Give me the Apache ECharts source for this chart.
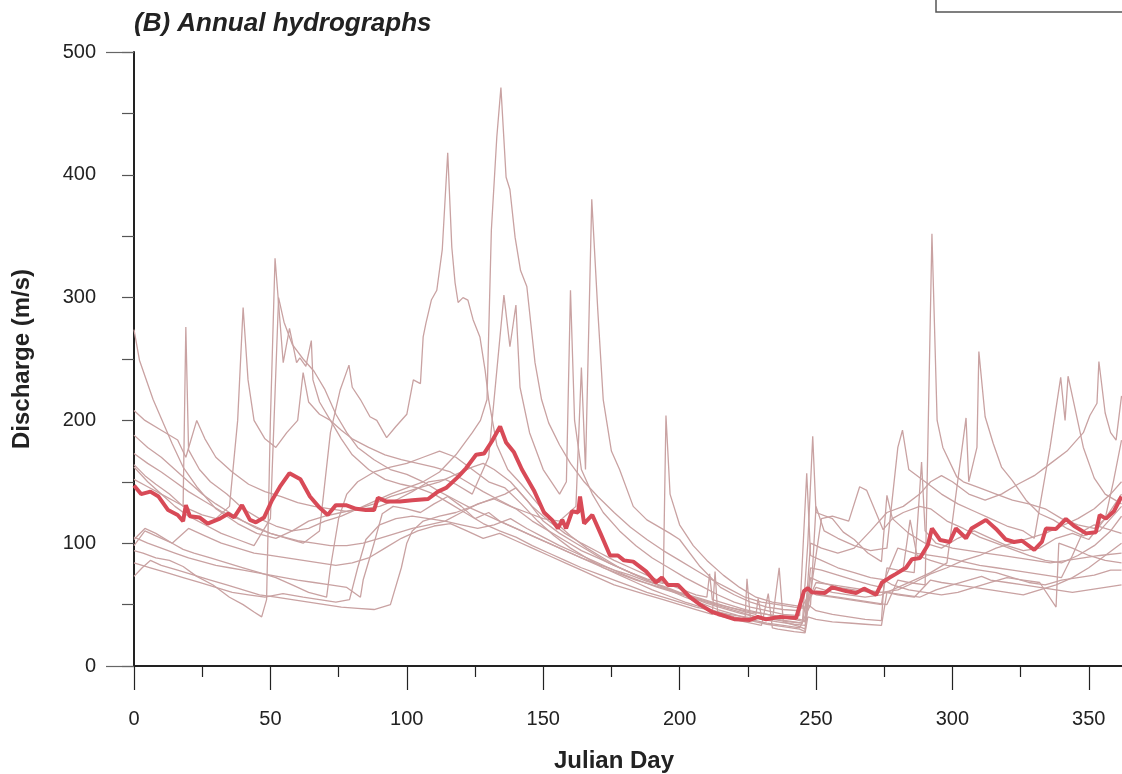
<!DOCTYPE html>
<html>
<head>
<meta charset="utf-8">
<script src="https://cdn.jsdelivr.net/npm/echarts@6/dist/echarts.min.js"></script>
<style>
  html, body { margin: 0; padding: 0; background: #fff; }
  #chart { width: 1122px; height: 774px; }
</style>
</head>
<body>
<div id="chart"></div>
<script>
// tick labels
const xTicks = [0, 50, 100, 150, 200, 250, 300, 350];
const yTicks = [0, 100, 200, 300, 400, 500];

// single years, [julian day, discharge]
const y01 = [[0,274],[2,249],[7,217],[14,181],[18,162],[23,146],[30,128],[38,116],[45,108],[52,104],[58,110],[64,118],[70,122],[76,125],[82,128],[88,132],[94,138],[100,142],[106,146],[112,150],[118,156],[124,162],[128,165],[132,160],[138,150],[144,135],[150,118],[156,108],[162,100],[168,92],[174,84],[180,78],[186,72],[192,66],[198,61],[204,56],[210,51],[216,47],[222,43],[228,40],[234,38],[240,36],[245,35],[247,100],[248.8,187],[250,125],[256,120],[260,109],[264,103],[269,92],[274,85],[276,139],[278,120],[284,108],[290,100],[296,96],[302,104],[308,110],[314,104],[320,98],[326,94],[332,96],[338,104],[344,108],[350,103],[356,120],[362,140]];
const y02 = [[0,208],[4,200],[10,192],[16,184],[19,170],[23,200],[26,185],[30,170],[36,158],[42,148],[48,142],[54,138],[60,133],[66,130],[72,128],[78,126],[84,128],[90,130],[96,135],[102,142],[108,150],[114,152],[118,148],[124,140],[130,170],[135.6,302],[137.8,260],[140,294],[141.5,227],[145,190],[150,160],[156,140],[158.5,150],[160,306],[161.5,200],[164,160],[168,140],[172,125],[178,110],[184,98],[190,88],[196,80],[202,72],[208,65],[214,58],[220,52],[226,48],[232,45],[238,42],[244,41],[246.6,157],[248,90],[252,86],[258,80],[264,76],[270,72],[276,70],[282,80],[284.5,119],[287,90],[292,86],[298,82],[304,80],[310,78],[316,76],[322,72],[328,68],[334,66],[340,70],[346,72],[352,74],[358,78],[362,78]];
const y03 = [[0,188],[5,178],[10,170],[15,160],[20,150],[25,140],[30,132],[35,125],[40,118],[45,112],[50,108],[55,105],[60,102],[66,100],[72,98],[78,98],[84,100],[90,104],[96,108],[102,112],[108,115],[114,118],[120,125],[126,132],[132,136],[138,130],[144,125],[150,120],[156,118],[162,130],[164,243],[165.5,160],[167.8,380],[170,290],[172,217],[175,175],[178,160],[183,130],[188,119],[196.5,108],[200,103],[207.5,81],[215,64],[220,58],[226,52],[232,48],[238,46],[244,45],[248,60],[252,120],[256,122],[262,118],[266,146],[268.6,143],[274.6,111],[278,120],[282,125],[288,130],[292,128],[298,118],[304,112],[310,105],[316,100],[322,95],[328,90],[334,86],[340,84],[346,90],[352,98],[358,110],[362,122]];
const y04 = [[0,173],[5,165],[10,158],[15,150],[20,142],[26,134],[32,126],[38,120],[44,114],[50,108],[56,104],[62,100],[68,110],[72,190],[75.6,225],[78.8,245],[80,227],[83,217],[86.5,203],[89,200],[92.6,186],[96,195],[100,205],[102.4,233],[105,230],[106,268],[107,279],[109,298],[111,306],[113,339],[115,418],[116.5,341],[117.7,312],[118.8,296],[120.6,300],[122.4,298],[124.3,282],[126.8,268],[128.7,241],[130,217],[133,180],[137,160],[142,148],[148,132],[154,118],[160,106],[166,96],[172,88],[178,80],[184,74],[190,68],[196,62],[202,56],[208,51],[214,46],[220,42],[226,38],[232,35],[238,33],[244,31],[248,50],[250,130],[253,110],[258,104],[264,98],[270,94],[276,96],[280,178],[281.7,192],[284,160],[290,150],[296,140],[302,132],[308,126],[314,120],[320,114],[326,110],[330,104],[335.8,178],[339.7,235],[341.3,200],[342.4,236],[348,178],[352,153],[356,140],[362,132]];
const y05 = [[0,164],[4,155],[8,148],[13,140],[18,130],[19,276],[20,176],[24,160],[28,150],[34,140],[40,128],[46,120],[52,114],[58,110],[64,112],[70,118],[76,122],[82,128],[88,134],[94,140],[100,145],[106,150],[112,158],[118,172],[124,190],[127,200],[129.4,217],[131,355],[133,431],[134.5,471],[136.4,398],[137.8,388],[139.7,349],[141.7,322],[144,309],[147,247],[149.4,217],[152,198],[156,180],[160,165],[165,150],[170,138],[176,125],[182,113],[188,103],[194,94],[200,86],[206,78],[212,70],[218,63],[224,56],[230,52],[236,50],[242,48],[246,47],[250,68],[256,66],[262,64],[268,62],[274,60],[280,62],[286,68],[292,75],[298,80],[304,86],[310,90],[316,96],[322,100],[328,104],[334,108],[340,114],[346,120],[352,128],[358,140],[362,150]];
const y06 = [[0,152],[5,146],[10,140],[15,134],[20,128],[25,123],[30,120],[35,130],[38,200],[40,292],[41.8,233],[44,200],[48,185],[52,178],[56,190],[60,200],[62,239],[64,215],[68,205],[72,200],[76,192],[80,185],[86,178],[92,172],[98,168],[104,165],[110,162],[116,158],[122,150],[128,142],[134,135],[140,128],[146,118],[152,110],[158,102],[164,94],[170,88],[176,82],[182,76],[188,71],[194,67],[195,204],[196.5,140],[200,115],[205,98],[210,86],[216,74],[222,64],[228,56],[234,52],[240,50],[246,48],[250,64],[256,60],[262,58],[268,56],[274,58],[280,64],[286,70],[292,76],[298,84],[305,202],[306,150],[309,178],[309.7,256],[312,203],[315,181],[318,162],[322,151],[327,135],[332,124],[337,119],[342,112],[348,106],[354,110],[358,120],[362,130]];
const y07 = [[0,105],[5,100],[10,96],[15,92],[20,88],[25,85],[30,82],[35,80],[40,78],[45,76],[50,74],[55,72],[60,70],[66,68],[72,66],[78,64],[83,56],[84,70],[88,100],[91,124],[95,130],[100,128],[105,125],[110,132],[115,138],[120,130],[125,120],[130,125],[134,118],[140,112],[146,106],[152,100],[158,94],[164,88],[170,83],[176,78],[182,74],[188,69],[194,65],[200,60],[206,56],[212,52],[218,48],[224,44],[228,42],[228.8,55],[230,40],[236,38],[242,36],[245,35],[247,62],[250,58],[256,56],[262,54],[268,52],[274,50],[276,80],[280,78],[286,76],[288.7,166],[290,110],[294,100],[300,96],[306,94],[312,92],[318,90],[324,88],[330,86],[336,84],[342,86],[348,88],[354,90],[362,92]];
const y08 = [[0,103],[4,112],[8,108],[14,100],[18,95],[22,92],[28,88],[34,84],[40,80],[46,76],[52,72],[58,66],[64,60],[70.6,56],[72,80],[75,120],[78,140],[82,150],[88,158],[94,162],[100,165],[106,170],[112,175],[118,170],[124,160],[130,150],[136,145],[142,132],[148,118],[154,106],[160,96],[166,88],[172,80],[178,74],[184,68],[190,62],[196,57],[202,52],[208,48],[214,44],[220,40],[224,38],[224.7,71],[226,37],[232,34],[238,32],[244,30],[246,28],[247,50],[250,45],[256,42],[262,40],[268,38],[274,37],[275,70],[278,66],[284,62],[290,60],[296,58],[302,60],[308,64],[314,68],[320,72],[326,70],[332,68],[338,48],[339,100],[344,96],[350,90],[356,86],[362,84]];
const y09 = [[0,94],[3.3,92],[8,88],[13,86],[18,81],[23,73],[29,66],[35,56],[40,50],[44,44],[46.8,40],[48.6,54],[50,200],[51.7,332],[54.7,247],[57,275],[59.6,247],[60.8,251],[63,244],[65,265],[65.6,233],[68,215],[72,200],[76,185],[80,172],[86,160],[92,152],[98,148],[104,145],[110,140],[116,132],[122,124],[128,116],[134,110],[140,105],[146,98],[152,92],[158,86],[164,80],[170,75],[176,70],[182,65],[188,60],[194,56],[200,52],[206,48],[212,45],[218,42],[224,40],[230,38],[236,36],[242,34],[246,33],[248,60],[252,58],[258,56],[264,54],[270,52],[276,50],[280,70],[284,68],[290,66],[292.5,352],[294.4,200],[296.5,178],[301.6,154],[304,150],[310,145],[316,140],[322,135],[328,132],[334,128],[340,120],[346,115],[352,112],[356,120],[359,150],[362,184]];
const y10 = [[0,84],[6,80],[12,76],[18,72],[24,68],[30,64],[36,60],[42,58],[48,56],[54.6,59],[62,56],[68,54],[74,52],[79,54],[82,80],[85,103],[90,115],[96,120],[102,122],[108,120],[114,118],[120,115],[126,112],[132,115],[138,120],[144,112],[150,105],[156,98],[162,92],[168,86],[174,80],[180,74],[186,69],[192,64],[198,60],[204,56],[210,52],[216,48],[222,44],[228,40],[234,37],[236.5,80],[238,36],[244,32],[246,30],[248,72],[252,68],[258,64],[264,62],[270,60],[276,60],[282,58],[288,56],[294,62],[300,66],[306,70],[310.7,73],[314,70],[320,68],[326,66],[332,64],[338,62],[344,60],[350,62],[356,64],[362,66]];
const y11 = [[0,73],[3,80],[6,86],[10,82],[16,78],[22,74],[28,70],[34,66],[40,62],[46,58],[52,56],[58,54],[64,52],[70,50],[76,48],[82,47],[88,46],[94,50],[98,80],[100,100],[102,110],[106,118],[112,122],[118,125],[124,130],[130,135],[136,140],[140,145],[146,130],[152,118],[158,108],[164,100],[170,93],[176,86],[182,80],[188,74],[194,68],[200,63],[206,58],[210,56],[211,75],[212,54],[218,50],[224,46],[230,43],[236,40],[242,38],[246,36],[248,80],[252,78],[258,74],[264,70],[270,66],[274,64],[280,96],[286,92],[292,90],[298,88],[304,85],[310,82],[316,80],[322,78],[328,76],[334,74],[340,72],[344,90],[348,110],[352,115],[356,112],[362,108]];
const y12 = [[0,98],[4,110],[8,106],[14,100],[20,112],[26,106],[32,100],[38,96],[44,92],[50,90],[56,88],[62,86],[68,84],[74,82],[80,84],[86,88],[92,96],[98,104],[104,110],[110,114],[116,116],[122,110],[128,104],[134,108],[140,102],[146,96],[152,90],[158,84],[164,78],[170,72],[176,66],[182,62],[188,58],[194,54],[200,50],[206,46],[212,42],[213,77],[214,41],[218,39],[224,36],[230,33],[232.5,59],[234,31],[236,30],[242,28],[246,27],[247,40],[250,38],[256,36],[262,35],[268,34],[274,33],[276,60],[280,58],[286,56],[292,70],[296,68],[302,66],[308,64],[314,62],[320,60],[326,58],[332,62],[338,66],[344,72],[350,80],[356,90],[362,100]];
const y13 = [[0,162],[5,150],[10,140],[15,130],[20,122],[26,115],[32,108],[38,103],[44,98],[50,120],[53,300],[55,280],[58,262],[62,250],[66,240],[70,225],[74,205],[78,190],[82,178],[88,168],[94,160],[100,156],[106,150],[112,142],[118,135],[124,128],[130,122],[136,116],[142,110],[148,104],[154,98],[160,92],[166,86],[172,80],[178,75],[184,70],[190,66],[196,62],[202,58],[208,54],[214,50],[220,47],[226,44],[232,42],[238,40],[244,38],[246,37],[248,100],[252,96],[258,92],[264,96],[270,110],[276,125],[282,130],[288,140],[292,150],[296,155],[300,150],[306,140],[312,135],[318,140],[324,148],[330,155],[336,165],[342,175],[348,190],[350.4,204],[353,214],[353.7,248],[356,206],[358,190],[360,184],[362,220]];

// mean hydrograph
const meanLine = [[0,147],[2.6,140],[6,142],[9,138],[12.5,127],[16,123],[18,118],[19,131],[20.5,122],[24,121],[27,116],[31.5,120],[34.5,124],[36.7,121],[39.6,131],[42.5,119],[44.7,117],[47.7,121],[50.6,135],[53.5,146],[57,157],[61,152],[64.5,138],[68,129],[71,123],[74,131],[77.7,131],[81.4,128],[85,127],[88,127],[89.4,137],[92.4,134],[97.5,134],[102,135],[107.8,136],[111.4,142],[114.4,145],[118.8,154],[121.7,161],[125.4,172],[128.3,173],[131.2,183],[134.2,195],[136.4,182],[139.3,174],[142.2,160],[146.6,143],[150.3,125],[153.2,119],[155.4,112],[157,119],[158.4,112],[160.6,126],[162.8,125],[163.5,138],[165,116],[168,123],[171,108],[174.5,90],[177.4,90],[179.6,86],[183,85],[187.7,77],[191.3,68],[193.5,72],[195.7,66],[199.4,66],[203.8,56],[207.5,50],[211.9,44],[215.5,41.5],[220.3,38],[225.8,37.5],[228.7,40],[231.7,38],[236.8,40],[242.7,39],[245.6,61],[247,63.5],[248.5,60],[253.3,59.5],[255.9,64],[261,61],[264.7,59.5],[267.6,63],[272,58],[274.2,68],[277,72],[279.3,75],[283,80],[285.2,87],[288.1,88],[291,98.5],[292.5,112],[295.5,102.6],[299,101],[301.3,112],[305,104],[307,112],[312.3,119],[316,111.6],[319.6,103],[322.6,101],[325.5,102],[330,94.5],[332.8,101],[334.3,112],[338,111.6],[341.6,119.7],[344.6,114],[349,108],[352.6,109],[354,123],[356.3,120],[359.2,126],[362,138]];

const years = [y01, y02, y03, y04, y05, y06, y07, y08, y09, y10, y11, y12, y13];

const chart = echarts.init(document.getElementById('chart'));
const font = '"Liberation Sans", Arial, Helvetica, sans-serif';

const series = years.map((d, i) => ({
  type: 'line',
  name: 'year' + (i + 1),
  data: d,
  showSymbol: false,
  lineStyle: { color: '#c9a2a2', width: 1.3 },
  z: 2
}));
series.push({
  type: 'line',
  name: 'mean',
  data: meanLine,
  showSymbol: false,
  lineStyle: { color: '#d84a57', width: 4 },
  z: 5
});

chart.setOption({
  animation: false,
  title: [
    {
      text: '(B) Annual hydrographs',
      left: 129,
      top: 6,
      textStyle: { fontFamily: font, fontSize: 26, fontWeight: 'bold', fontStyle: 'italic', color: '#222' }
    },
    {
      // x axis title, centred on the visible part of the plot
      text: 'Julian Day',
      left: 609,
      top: 744,
      textAlign: 'center',
      textStyle: { fontFamily: font, fontSize: 24, fontWeight: 'bold', color: '#222' }
    }
  ],
  // plot continues past the right edge of the picture (x max 375)
  grid: { left: 134, top: 52, width: 1023, height: 614, outerBoundsMode: 'none' },
  xAxis: [
    {
      type: 'value',
      min: 0,
      max: 375,
      interval: 50,
      axisLine: { lineStyle: { color: '#222', width: 2 } },
      axisTick: { length: 24, lineStyle: { color: '#222', width: 1.2 } },
      minorTick: { show: true, splitNumber: 2, length: 11, lineStyle: { color: '#222', width: 1.2 } },
      axisLabel: {
        margin: 43,
        fontFamily: font,
        fontSize: 20,
        color: '#222',
        formatter: v => (xTicks.includes(v) ? String(v) : '')
      },
      splitLine: { show: false }
    },
    {
      type: 'value',
      position: 'top',
      min: 0,
      max: 375,
      axisLine: { show: true, lineStyle: { color: '#222', width: 2 } },
      axisTick: { show: false },
      axisLabel: { show: false },
      splitLine: { show: false }
    }
  ],
  yAxis: [
    {
      type: 'value',
      min: 0,
      max: 500,
      interval: 50,
      name: 'Discharge (m/s)',
      nameLocation: 'middle',
      nameGap: 100,
      nameTextStyle: { fontFamily: font, fontSize: 24, fontWeight: 'bold', color: '#222' },
      axisLine: { show: true, lineStyle: { color: '#222', width: 2 } },
      axisTick: { length: 12, lineStyle: { color: '#555', width: 1.2 } },
      axisLabel: {
        margin: 38,
        fontFamily: font,
        fontSize: 20,
        color: '#222',
        formatter: v => (yTicks.includes(v) ? String(v) : '')
      },
      splitLine: { show: false }
    },
    {
      type: 'value',
      position: 'left',
      min: 0,
      max: 500,
      interval: 500,
      axisLine: { show: false },
      axisTick: { show: true, length: 28, lineStyle: { color: '#666', width: 1.2 } },
      axisLabel: { show: false },
      splitLine: { show: false }
    }
  ],
  graphic: [
    {
      type: 'rect',
      shape: { x: 936, y: -40, width: 220, height: 52 },
      style: { fill: '#fff', stroke: '#555', lineWidth: 1.5 },
      z: 10
    }
  ],
  series
});
</script>
</body>
</html>
